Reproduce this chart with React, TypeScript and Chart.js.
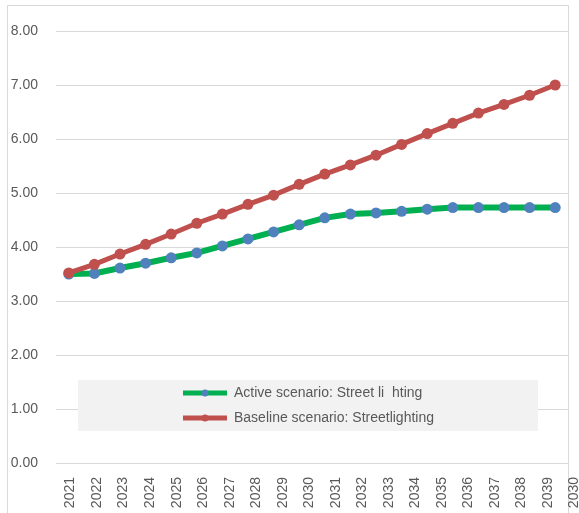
import { useEffect, useRef } from "react";
import { Chart, registerables } from "chart.js";

Chart.register(...registerables);

// Category labels along the bottom axis (the last one is printed as "2030" in the source sheet)
const YEAR_LABELS = [
  "2021", "2022", "2023", "2024", "2025", "2026", "2027", "2028", "2029", "2030",
  "2031", "2032", "2033", "2034", "2035", "2036", "2037", "2038", "2039", "2030",
];

const ACTIVE_NAME = "Active scenario: Street li  hting";
const BASELINE_NAME = "Baseline scenario: Streetlighting";

const ACTIVE_VALUES = [
  3.50, 3.51, 3.61, 3.70, 3.80, 3.89, 4.02, 4.15, 4.28, 4.41,
  4.54, 4.61, 4.63, 4.66, 4.70, 4.73, 4.73, 4.73, 4.73, 4.73,
];

const BASELINE_VALUES = [
  3.52, 3.68, 3.87, 4.05, 4.24, 4.44, 4.61, 4.79, 4.96, 5.16,
  5.35, 5.52, 5.70, 5.90, 6.10, 6.29, 6.48, 6.64, 6.81, 7.00,
];

const Y_MIN = 0;
const Y_MAX = 8;
const Y_STEP = 1;

const FONT_FAMILY = "'Liberation Sans', Arial, sans-serif";
const TEXT_COLOR = "#595959";
const GRID_COLOR = "#d9d9d9";
const GREEN = "#00b050";
const BLUE = "#4f81bd";
const RED = "#c0504d";

// Light grey outline around the whole chart
const framePlugin = {
  id: "frame",
  beforeDraw(chart: Chart) {
    const { ctx, height } = chart;
    ctx.save();
    ctx.strokeStyle = GRID_COLOR;
    ctx.lineWidth = 1;
    ctx.beginPath();
    ctx.moveTo(7.5, height);
    ctx.lineTo(7.5, 5.5);
    ctx.lineTo(568.5, 5.5);
    ctx.lineTo(568.5, height);
    ctx.stroke();
    ctx.restore();
  },
};

// Legend box sitting inside the plot area
const insideLegendPlugin = {
  id: "insideLegend",
  afterDatasetsDraw(chart: Chart) {
    const { ctx } = chart;
    const boxLeft = 78;
    const boxTop = 380;
    const boxW = 460;
    const boxH = 51;
    ctx.save();
    ctx.fillStyle = "#f2f2f2";
    ctx.fillRect(boxLeft, boxTop, boxW, boxH);

    // legend rows: active first, baseline second
    const ordered = [...chart.data.datasets].sort(
      (a: any, b: any) => a.legendRank - b.legendRank
    );
    ordered.forEach((ds: any, i: number) => {
      const cy = 393 + i * 25;
      const x0 = 183;
      const x1 = 227;
      ctx.strokeStyle = ds.borderColor;
      ctx.lineWidth = 5;
      ctx.lineCap = "butt";
      ctx.beginPath();
      ctx.moveTo(x0, cy);
      ctx.lineTo(x1, cy);
      ctx.stroke();
      ctx.fillStyle = ds.pointBackgroundColor;
      ctx.beginPath();
      ctx.arc((x0 + x1) / 2, cy, 3.5, 0, Math.PI * 2);
      ctx.fill();
      ctx.fillStyle = TEXT_COLOR;
      ctx.font = `14px ${FONT_FAMILY}`;
      ctx.textBaseline = "middle";
      ctx.textAlign = "left";
      ctx.fillText(ds.label, 234, cy);
    });
    ctx.restore();
  },
};

export default function App() {
  const canvasRef = useRef<HTMLCanvasElement | null>(null);

  useEffect(() => {
    document.body.style.margin = "0";
    const canvas = canvasRef.current;
    if (!canvas) return;

    const chart = new Chart(canvas, {
      type: "line",
      data: {
        labels: YEAR_LABELS,
        datasets: [
          {
            label: BASELINE_NAME,
            data: BASELINE_VALUES,
            borderColor: RED,
            backgroundColor: RED,
            borderWidth: 5,
            pointRadius: 5.5,
            pointBackgroundColor: RED,
            pointBorderColor: RED,
            pointBorderWidth: 0,
            tension: 0,
            order: 0,
            legendRank: 1,
          } as any,
          {
            label: ACTIVE_NAME,
            data: ACTIVE_VALUES,
            borderColor: GREEN,
            backgroundColor: GREEN,
            borderWidth: 6,
            pointRadius: 5.5,
            pointBackgroundColor: BLUE,
            pointBorderColor: BLUE,
            pointBorderWidth: 0,
            tension: 0,
            order: 1,
            legendRank: 0,
          } as any,
        ],
      },
      options: {
        responsive: true,
        maintainAspectRatio: false,
        animation: false,
        layout: { padding: { top: 31, right: 11, left: 0, bottom: 0 } },
        plugins: {
          legend: { display: false },
          tooltip: { enabled: false },
        },
        scales: {
          x: {
            type: "category",
            offset: true,
            display: false,
          },
          xLabels: {
            type: "linear",
            position: "bottom",
            min: -0.547,
            max: 18.75,
            grid: { display: false },
            border: { display: false },
            afterBuildTicks: (scale: any) => {
              scale.ticks = YEAR_LABELS.map((_, i) => ({ value: i }));
            },
            afterFit: (scale: any) => {
              scale.height = 50;
              scale.paddingLeft = 0;
              scale.paddingRight = 0;
            },
            ticks: {
              autoSkip: false,
              minRotation: 90,
              maxRotation: 90,
              padding: 6,
              color: TEXT_COLOR,
              font: { family: FONT_FAMILY, size: 14 },
              callback: (_v: any, index: number) => YEAR_LABELS[index],
            },
          } as any,
          y: {
            min: Y_MIN,
            max: Y_MAX,
            border: { display: false },
            grid: { color: GRID_COLOR, lineWidth: 1, drawTicks: false },
            afterFit: (scale: any) => {
              scale.width = 56;
            },
            ticks: {
              stepSize: Y_STEP,
              padding: 18,
              color: TEXT_COLOR,
              font: { family: FONT_FAMILY, size: 14 },
              callback: (v: any) => Number(v).toFixed(2),
            },
          },
        },
      },
      plugins: [framePlugin, insideLegendPlugin],
    });

    return () => chart.destroy();
  }, []);

  return (
    <div style={{ position: "relative", width: 579, height: 513 }}>
      <canvas ref={canvasRef} />
    </div>
  );
}
